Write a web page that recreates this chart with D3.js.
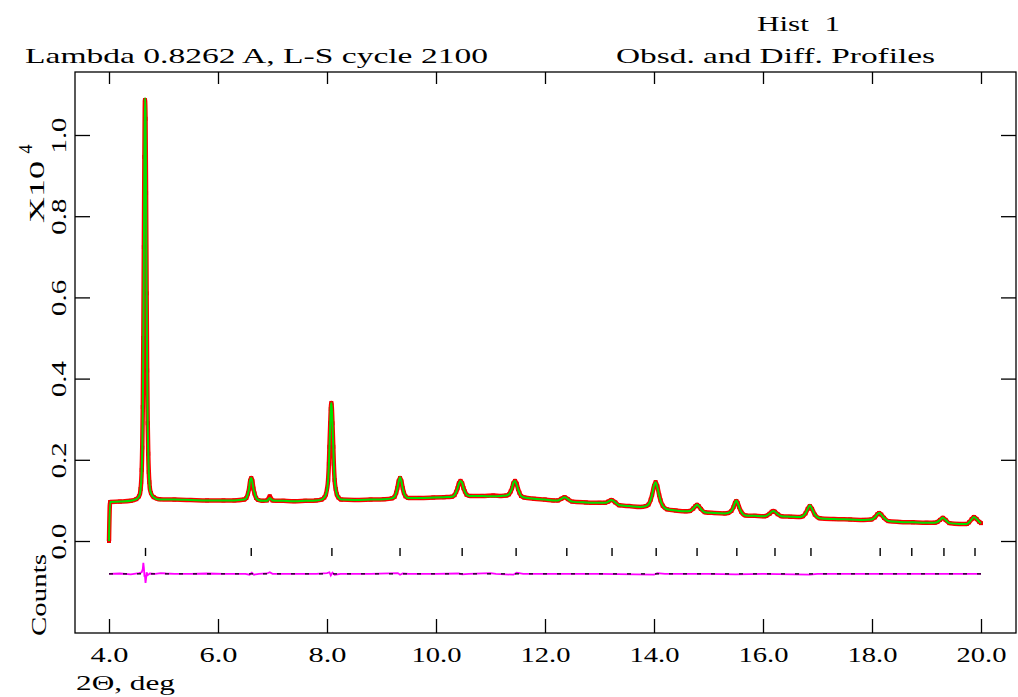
<!DOCTYPE html>
<html><head><meta charset="utf-8">
<script src="https://cdn.jsdelivr.net/npm/d3@7"></script>
<style>
body{margin:0;background:#fff}
svg{display:block}
text{font-family:"Liberation Serif","DejaVu Serif",serif;fill:#000;white-space:pre}
</style>
</head><body>
<svg id="chart" width="1018" height="697"></svg>
<script>
// ---------- data (2-theta in degrees, intensity in units of 10^4 counts) ----------
const xTicks = [4, 6, 8, 10, 12, 14, 16, 18, 20];
const xTickLabels = ["4.0", "6.0", "8.0", "10.0", "12.0", "14.0", "16.0", "18.0", "20.0"];
const yTicks = [0, 0.2, 0.4, 0.6, 0.8, 1.0];
const yTickLabels = ["0.0", "0.2", "0.4", "0.6", "0.8", "1.0"];
const reflections = [4.67, 6.61, 8.09, 9.34, 10.48, 11.47, 12.40, 13.23, 14.04, 14.79,
                     15.52, 16.22, 16.88, 18.15, 18.73, 19.32, 19.89];
const observed = [
 [4.00,0.000],[4.02,0.096],[4.20,0.097],[4.40,0.099],[4.50,0.103],[4.55,0.110],
 [4.57,0.118],[4.58,0.128],[4.59,0.145],[4.60,0.175],[4.61,0.230],[4.62,0.330],[4.63,0.500],[4.64,0.724],[4.65,0.946],[4.66,1.086],[4.67,1.040],[4.68,0.857],[4.69,0.610],[4.70,0.420],[4.71,0.290],[4.72,0.215],[4.73,0.170],[4.74,0.145],[4.75,0.130],[4.77,0.118],[4.82,0.108],[4.92,0.103],
 [5.20,0.102],[5.50,0.101],[5.80,0.100],[6.10,0.100],[6.30,0.100],
 [6.48,0.102],[6.52,0.106],[6.55,0.117],[6.57,0.129],[6.59,0.148],[6.61,0.155],[6.63,0.148],[6.65,0.129],[6.67,0.117],[6.70,0.106],[6.74,0.101],
 [6.82,0.099],[6.90,0.100],[6.95,0.110],[7.00,0.100],[7.20,0.099],[7.40,0.098],[7.60,0.099],[7.80,0.100],
 [7.90,0.102],[7.95,0.107],[7.98,0.115],[8.00,0.128],[8.02,0.150],[8.035,0.190],[8.045,0.232],[8.06,0.290],[8.07,0.325],[8.08,0.340],[8.09,0.325],[8.10,0.290],[8.115,0.232],[8.125,0.190],[8.14,0.150],[8.16,0.128],[8.18,0.115],[8.21,0.107],[8.26,0.102],
 [8.50,0.101],[8.80,0.102],[9.05,0.103],
 [9.19,0.105],[9.24,0.109],[9.27,0.119],[9.29,0.130],[9.315,0.147],[9.34,0.155],[9.365,0.147],[9.39,0.130],[9.41,0.119],[9.44,0.110],[9.49,0.106],
 [9.70,0.106],[9.95,0.107],[10.15,0.108],
 [10.29,0.109],[10.34,0.113],[10.37,0.121],[10.395,0.130],[10.42,0.142],[10.45,0.148],[10.48,0.142],[10.505,0.130],[10.53,0.122],[10.56,0.114],[10.62,0.111],
 [10.85,0.111],[11.05,0.112],[11.20,0.111],
 [11.29,0.112],[11.34,0.115],[11.37,0.122],[11.395,0.130],[11.42,0.142],[11.45,0.148],[11.48,0.141],[11.505,0.128],[11.53,0.119],[11.56,0.111],[11.62,0.107],
 [11.80,0.104],[12.00,0.102],[12.15,0.100],
 [12.24,0.100],[12.30,0.104],[12.36,0.108],[12.42,0.103],[12.50,0.097],
 [12.75,0.095],[13.00,0.094],[13.10,0.094],
 [13.16,0.097],[13.22,0.101],[13.29,0.095],[13.36,0.088],
 [13.55,0.086],[13.75,0.084],
 [13.85,0.086],[13.90,0.090],[13.94,0.102],[13.965,0.114],[14.00,0.135],[14.03,0.145],[14.06,0.135],[14.095,0.113],[14.12,0.100],[14.16,0.087],[14.24,0.078],
 [14.40,0.075],[14.58,0.073],
 [14.66,0.074],[14.72,0.080],[14.76,0.086],[14.79,0.089],[14.82,0.086],[14.86,0.079],[14.93,0.071],
 [15.10,0.069],[15.30,0.068],
 [15.36,0.069],[15.42,0.074],[15.46,0.084],[15.485,0.094],[15.51,0.0985],[15.535,0.094],[15.56,0.084],[15.60,0.072],[15.68,0.063],
 [15.85,0.062],[16.02,0.061],
 [16.06,0.062],[16.12,0.067],[16.16,0.072],[16.19,0.074],[16.22,0.072],[16.27,0.066],[16.34,0.061],
 [16.50,0.060],[16.68,0.059],
 [16.73,0.061],[16.78,0.068],[16.82,0.079],[16.86,0.086],[16.90,0.079],[16.95,0.065],[17.04,0.056],
 [17.30,0.054],[17.60,0.053],[17.85,0.052],
 [17.99,0.053],[18.05,0.058],[18.10,0.066],[18.13,0.069],[18.17,0.065],[18.22,0.057],[18.30,0.049],
 [18.50,0.047],[18.75,0.046],[19.00,0.045],[19.15,0.045],
 [19.20,0.047],[19.25,0.052],[19.30,0.057],[19.35,0.052],[19.42,0.044],
 [19.60,0.042],[19.74,0.042],
 [19.78,0.046],[19.83,0.054],[19.87,0.059],[19.92,0.054],[19.97,0.047],[20.00,0.044]
];
const calculated = [
 [4.00,0.000],[4.02,0.096],[4.20,0.097],[4.40,0.099],[4.50,0.103],[4.55,0.110],
 [4.57,0.118],[4.58,0.128],[4.59,0.145],[4.60,0.171],[4.61,0.226],[4.62,0.318],[4.63,0.473],[4.64,0.709],[4.65,0.951],[4.66,1.091],[4.67,1.062],[4.68,0.869],[4.69,0.606],[4.70,0.420],[4.71,0.293],[4.72,0.215],[4.73,0.170],[4.74,0.145],[4.75,0.129],[4.77,0.118],[4.82,0.108],[4.92,0.102],
 [5.20,0.102],[5.50,0.101],[5.80,0.100],[6.10,0.100],[6.30,0.100],
 [6.48,0.102],[6.52,0.106],[6.55,0.117],[6.57,0.129],[6.59,0.150],[6.61,0.155],[6.63,0.145],[6.65,0.129],[6.67,0.119],[6.70,0.106],[6.74,0.101],
 [6.82,0.099],[6.90,0.099],[6.95,0.106],[7.00,0.100],[7.20,0.099],[7.40,0.098],[7.60,0.099],[7.80,0.100],
 [7.90,0.102],[7.95,0.107],[7.98,0.115],[8.00,0.126],[8.02,0.149],[8.035,0.188],[8.045,0.228],[8.06,0.292],[8.07,0.329],[8.08,0.340],[8.09,0.324],[8.10,0.287],[8.115,0.231],[8.125,0.190],[8.14,0.152],[8.16,0.128],[8.18,0.115],[8.21,0.107],[8.26,0.102],
 [8.50,0.101],[8.80,0.102],[9.05,0.103],
 [9.19,0.105],[9.24,0.109],[9.27,0.119],[9.29,0.129],[9.315,0.146],[9.34,0.157],[9.365,0.147],[9.39,0.129],[9.41,0.119],[9.44,0.110],[9.49,0.106],
 [9.70,0.106],[9.95,0.107],[10.15,0.108],
 [10.29,0.109],[10.34,0.113],[10.37,0.121],[10.395,0.130],[10.42,0.141],[10.45,0.148],[10.48,0.143],[10.505,0.130],[10.53,0.122],[10.56,0.114],[10.62,0.111],
 [10.85,0.111],[11.05,0.110],[11.20,0.111],
 [11.29,0.112],[11.34,0.115],[11.37,0.122],[11.395,0.130],[11.42,0.144],[11.45,0.148],[11.48,0.138],[11.505,0.128],[11.53,0.119],[11.56,0.111],[11.62,0.107],
 [11.80,0.104],[12.00,0.102],[12.15,0.100],
 [12.24,0.100],[12.30,0.104],[12.36,0.108],[12.42,0.103],[12.50,0.097],
 [12.75,0.095],[13.00,0.094],[13.10,0.094],
 [13.16,0.097],[13.22,0.101],[13.29,0.095],[13.36,0.088],
 [13.55,0.086],[13.75,0.084],
 [13.85,0.086],[13.90,0.090],[13.94,0.102],[13.965,0.114],[14.00,0.137],[14.03,0.145],[14.06,0.133],[14.095,0.113],[14.12,0.100],[14.16,0.087],[14.24,0.078],
 [14.40,0.075],[14.58,0.073],
 [14.66,0.074],[14.72,0.080],[14.76,0.086],[14.79,0.089],[14.82,0.086],[14.86,0.079],[14.93,0.071],
 [15.10,0.069],[15.30,0.068],
 [15.36,0.069],[15.42,0.074],[15.46,0.084],[15.485,0.094],[15.51,0.0995],[15.535,0.094],[15.56,0.084],[15.60,0.072],[15.68,0.063],
 [15.85,0.062],[16.02,0.061],
 [16.06,0.062],[16.12,0.067],[16.16,0.072],[16.19,0.074],[16.22,0.072],[16.27,0.066],[16.34,0.061],
 [16.50,0.060],[16.68,0.059],
 [16.73,0.061],[16.78,0.068],[16.82,0.079],[16.86,0.088],[16.90,0.079],[16.95,0.065],[17.04,0.056],
 [17.30,0.054],[17.60,0.053],[17.85,0.052],
 [17.99,0.053],[18.05,0.058],[18.10,0.066],[18.13,0.069],[18.17,0.065],[18.22,0.057],[18.30,0.049],
 [18.50,0.047],[18.75,0.046],[19.00,0.045],[19.15,0.045],
 [19.20,0.047],[19.25,0.052],[19.30,0.057],[19.35,0.052],[19.42,0.044],
 [19.60,0.042],[19.74,0.042],
 [19.78,0.046],[19.83,0.054],[19.87,0.059],[19.92,0.054],[19.97,0.047],[20.00,0.044]
];
const difference = [
 [4.00,0],[4.20,0.001],[4.40,-0.001],[4.55,0.002],[4.60,0.004],[4.62,0.012],[4.63,0.027],[4.64,0.015],
 [4.65,-0.005],[4.66,-0.005],[4.67,-0.022],[4.68,-0.012],[4.69,0.004],[4.71,-0.003],[4.75,0.001],
 [4.85,0],[4.95,0.002],[5.05,0.001],[5.20,0],[5.50,0],[5.80,0.001],[6.10,0],[6.50,0],
 [6.58,-0.002],[6.62,0.003],[6.66,-0.002],[6.75,0],[6.90,0.001],[6.95,0.004],[7.00,0],[7.40,0],[7.80,0],
 [8.00,0.002],[8.045,0.004],[8.07,-0.004],[8.10,0.003],[8.14,-0.002],[8.25,0],[8.80,0],
 [9.30,0.002],[9.34,-0.002],[9.39,0.001],[9.50,0],[10.00,0],[10.42,0.001],[10.48,-0.001],[10.60,0],
 [11.00,0.002],[11.10,0],[11.42,-0.002],[11.48,0.003],[11.60,0],[12.40,0],[13.00,0],
 [14.00,-0.002],[14.06,0.002],[14.20,0],[15.00,0],[15.50,-0.001],[16.00,0],[16.86,-0.002],[17.00,0],
 [18.00,0],[19.00,0],[20.00,0]
];
const diffOffset = -0.081;            // difference curve plotted about this level
const reflectionRow = [-0.017, -0.037]; // vertical extent of reflection markers

// ---------- layout ----------
const svg = d3.select("#chart");
const frame = {left: 75, right: 1016, top: 72, bottom: 633};
const x = d3.scaleLinear().domain([4, 20]).range([109, 981]);
const y = d3.scaleLinear().domain([0, 1]).range([541, 135]);

svg.append("rect")
  .attr("x", frame.left).attr("y", frame.top)
  .attr("width", frame.right - frame.left).attr("height", frame.bottom - frame.top)
  .attr("fill", "none").attr("stroke", "#000").attr("stroke-width", 1.3);

function styleAxis(g) {
  g.select(".domain").remove();
  g.selectAll(".tick line").attr("stroke", "#000").attr("stroke-width", 1.3);
  g.selectAll("text").style("font-family", '"Liberation Serif","DejaVu Serif",serif')
    .style("font-size", "22px").attr("fill", "#000");
}

const xb = svg.append("g").attr("transform", `translate(0,${frame.bottom})`)
  .call(d3.axisBottom(x).tickValues(xTicks).tickSizeInner(-14).tickSizeOuter(0)
    .tickPadding(13).tickFormat((d, i) => xTickLabels[i]));
styleAxis(xb);
xb.selectAll("text").each(function(d, i) {
  const s = xTickLabels[i];
  d3.select(this).attr("textLength", s.length === 3 ? 38 : 50).attr("lengthAdjust", "spacingAndGlyphs");
});
const xt = svg.append("g").attr("transform", `translate(0,${frame.top})`)
  .call(d3.axisTop(x).tickValues(xTicks).tickSizeInner(-12).tickSizeOuter(0).tickFormat(""));
styleAxis(xt);

const yl = svg.append("g").attr("transform", `translate(${frame.left},0)`)
  .call(d3.axisLeft(y).tickValues(yTicks).tickSizeInner(-15).tickSizeOuter(0)
    .tickFormat((d, i) => yTickLabels[i]));
styleAxis(yl);
yl.selectAll("text")
  .attr("transform", "rotate(-90)").attr("x", 0).attr("y", -9).attr("dy", 0)
  .attr("text-anchor", "middle").attr("textLength", 36).attr("lengthAdjust", "spacingAndGlyphs");
const yr = svg.append("g").attr("transform", `translate(${frame.right},0)`)
  .call(d3.axisRight(y).tickValues(yTicks).tickSizeInner(-15).tickSizeOuter(0).tickFormat(""));
styleAxis(yr);

// reflection markers
svg.append("g").selectAll("line").data(reflections).join("line")
  .attr("x1", d => x(d)).attr("x2", d => x(d))
  .attr("y1", y(reflectionRow[0])).attr("y2", y(reflectionRow[1]))
  .attr("stroke", "#000").attr("stroke-width", 1.4);

// difference curve: magenta trace over its black zero line
svg.append("path").datum(difference)
  .attr("d", d3.line().x(d => x(d[0])).y(d => y(d[1] + diffOffset)))
  .attr("fill", "none").attr("stroke", "#ff00ff").attr("stroke-width", 1.8);
svg.append("line")
  .attr("x1", x(4)).attr("x2", x(20)).attr("y1", y(diffOffset)).attr("y2", y(diffOffset))
  .attr("stroke", "#000").attr("stroke-width", 1.2).attr("stroke-dasharray", "4,10");

// observed profile (red markers)
const curve = d3.curveMonotoneX;
svg.append("path").datum(observed)
  .attr("d", d3.line().curve(curve).x(d => x(d[0])).y(d => y(d[1])))
  .attr("fill", "none").attr("stroke", "#ff0000").attr("stroke-width", 4.5)
  .attr("stroke-linejoin", "round");
svg.append("g").selectAll("rect").data(observed).join("rect")
  .attr("x", d => x(d[0]) - 2).attr("y", d => y(d[1]) - 2)
  .attr("width", 4).attr("height", 4).attr("fill", "#ee0000");

// calculated profile (green line)
svg.append("path").datum(calculated)
  .attr("d", d3.line().curve(curve).x(d => x(d[0])).y(d => y(d[1])))
  .attr("fill", "none").attr("stroke", "#00e000").attr("stroke-width", 2)
  .attr("stroke-linejoin", "round");

// texts
function label(str, xPos, yPos, len, opts = {}) {
  const t = svg.append("text").attr("x", xPos).attr("y", yPos).text(str)
    .style("font-size", (opts.size || 22) + "px");
  if (len) t.attr("textLength", len).attr("lengthAdjust", "spacingAndGlyphs");
  if (opts.anchor) t.attr("text-anchor", opts.anchor);
  if (opts.rotate) t.attr("transform", `rotate(-90,${xPos},${yPos})`);
  return t;
}
label("Hist  1", 757, 31, 83);
label("Lambda 0.8262 A, L-S cycle 2100", 25, 63, 463);
label("Obsd. and Diff. Profiles", 616, 63, 319);
label("2\u0398, deg", 76, 690, 99);
label("X10", 44, 192, 62, {anchor: "middle", rotate: true, size: 21});
label("4", 32, 149, 0, {anchor: "middle", rotate: true, size: 18});
label("Counts", 46, 595, 82, {anchor: "middle", rotate: true});
</script>
</body></html>
